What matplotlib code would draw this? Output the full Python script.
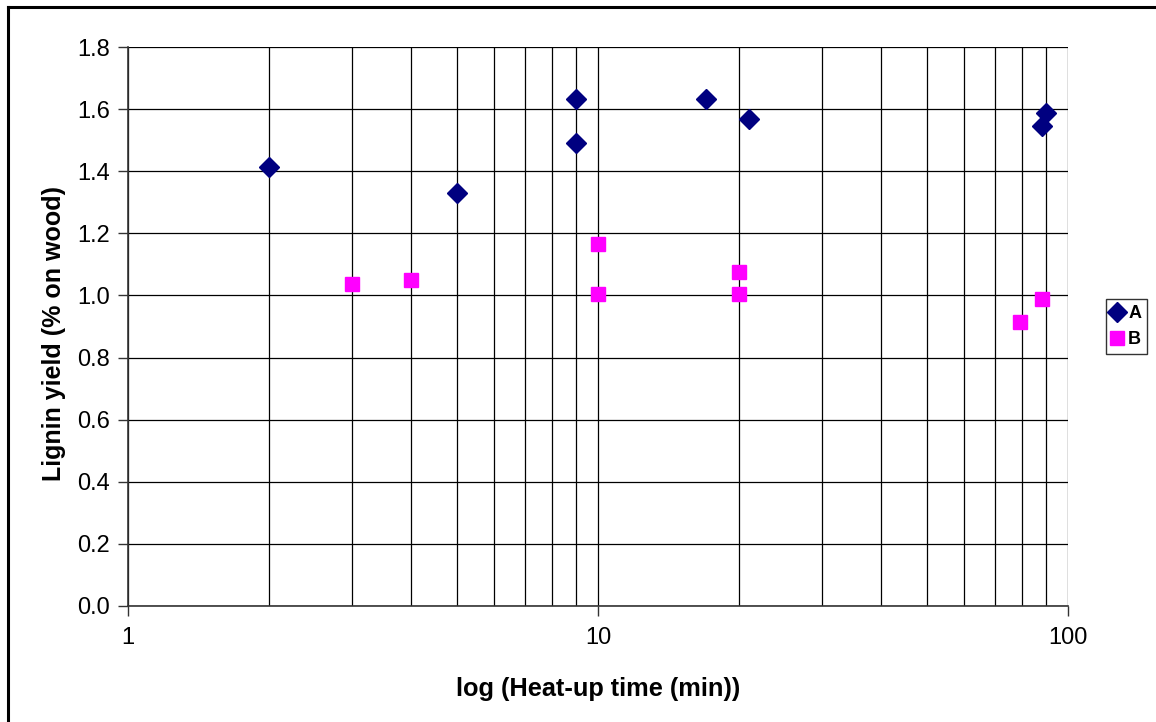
import numpy as np
import matplotlib
matplotlib.use('Agg')
import matplotlib.pyplot as plt
from matplotlib.lines import Line2D
from matplotlib.ticker import LogLocator, FixedLocator, NullFormatter

plt.rcParams['font.family'] = ['Liberation Sans', 'DejaVu Sans']

# Series A
a_time = [2, 5, 9, 9, 17, 21, 88, 90]
a_yield = [1.415, 1.33, 1.632, 1.492, 1.634, 1.568, 1.545, 1.589]

# Series B
b_time = [3, 4, 10, 10, 20, 20, 79, 88]
b_yield = [1.036, 1.05, 1.165, 1.005, 1.076, 1.005, 0.915, 0.988]

y_ticks = [0.0, 0.2, 0.4, 0.6, 0.8, 1.0, 1.2, 1.4, 1.6, 1.8]
x_ticks = [1, 10, 100]

W, H = 1156, 722
fig = plt.figure(figsize=(W / 100, H / 100), dpi=100)

# outer chart frame (only top and left edges visible)
fig.add_artist(Line2D([8 / W, 8 / W], [0, 1 - 7 / H], color='black', lw=2.2,
                      transform=fig.transFigure))
fig.add_artist(Line2D([8 / W, 1], [1 - 7 / H, 1 - 7 / H], color='black', lw=2.2,
                      transform=fig.transFigure))

ax = fig.add_axes([128 / W, (H - 606) / H, 940 / W, 559 / H])
ax.set_xscale('log')
ax.set_xlim(1, 100)
ax.set_ylim(0, 1.8)

ax.xaxis.set_major_locator(FixedLocator(x_ticks))
ax.xaxis.set_minor_locator(LogLocator(base=10, subs=np.arange(2, 10)))
ax.xaxis.set_minor_formatter(NullFormatter())
ax.set_xticklabels([str(t) for t in x_ticks])
ax.set_yticks(y_ticks)
ax.set_yticklabels(['%.1f' % v for v in y_ticks])

ax.grid(True, which='major', axis='both', color='black', lw=0.9)
ax.grid(True, which='minor', axis='x', color='black', lw=0.9)
ax.set_axisbelow(True)

for s in ['top', 'right']:
    ax.spines[s].set_visible(False)
for s in ['left', 'bottom']:
    ax.spines[s].set_color('#333333')
    ax.spines[s].set_linewidth(1.2)

ax.tick_params(axis='both', which='major', direction='out', length=7, width=1,
               labelsize=17, color='#333333')
ax.tick_params(axis='x', which='minor', length=0)
ax.tick_params(axis='x', which='major', pad=8)
ax.tick_params(axis='y', which='major', pad=6)

ax.plot(a_time, a_yield, linestyle='none', marker='D', ms=10.5, color='#000080',
        mec='#000080', label='A', zorder=3)
ax.plot(b_time, b_yield, linestyle='none', marker='s', ms=10, color='#FF00FF',
        mec='#FF00FF', label='B', zorder=3)

ax.set_xlabel('log (Heat-up time (min))', fontsize=18.3, fontweight='bold')
ax.set_ylabel('Lignin yield (% on wood)', fontsize=18, fontweight='bold')
ax.xaxis.set_label_coords(0.5, -0.1275)
ax.yaxis.set_label_coords(-0.066, 0.4875)

leg = ax.legend(loc='center left', bbox_to_anchor=(1.04, 0.5), frameon=True,
                fancybox=False, edgecolor='black',
                prop={'weight': 'bold', 'size': 13}, handlelength=0.6,
                handletextpad=0.3, borderpad=0.35, labelspacing=0.5,
                borderaxespad=0)
leg.get_frame().set_linewidth(1)

fig.savefig('out.png', dpi=100)
